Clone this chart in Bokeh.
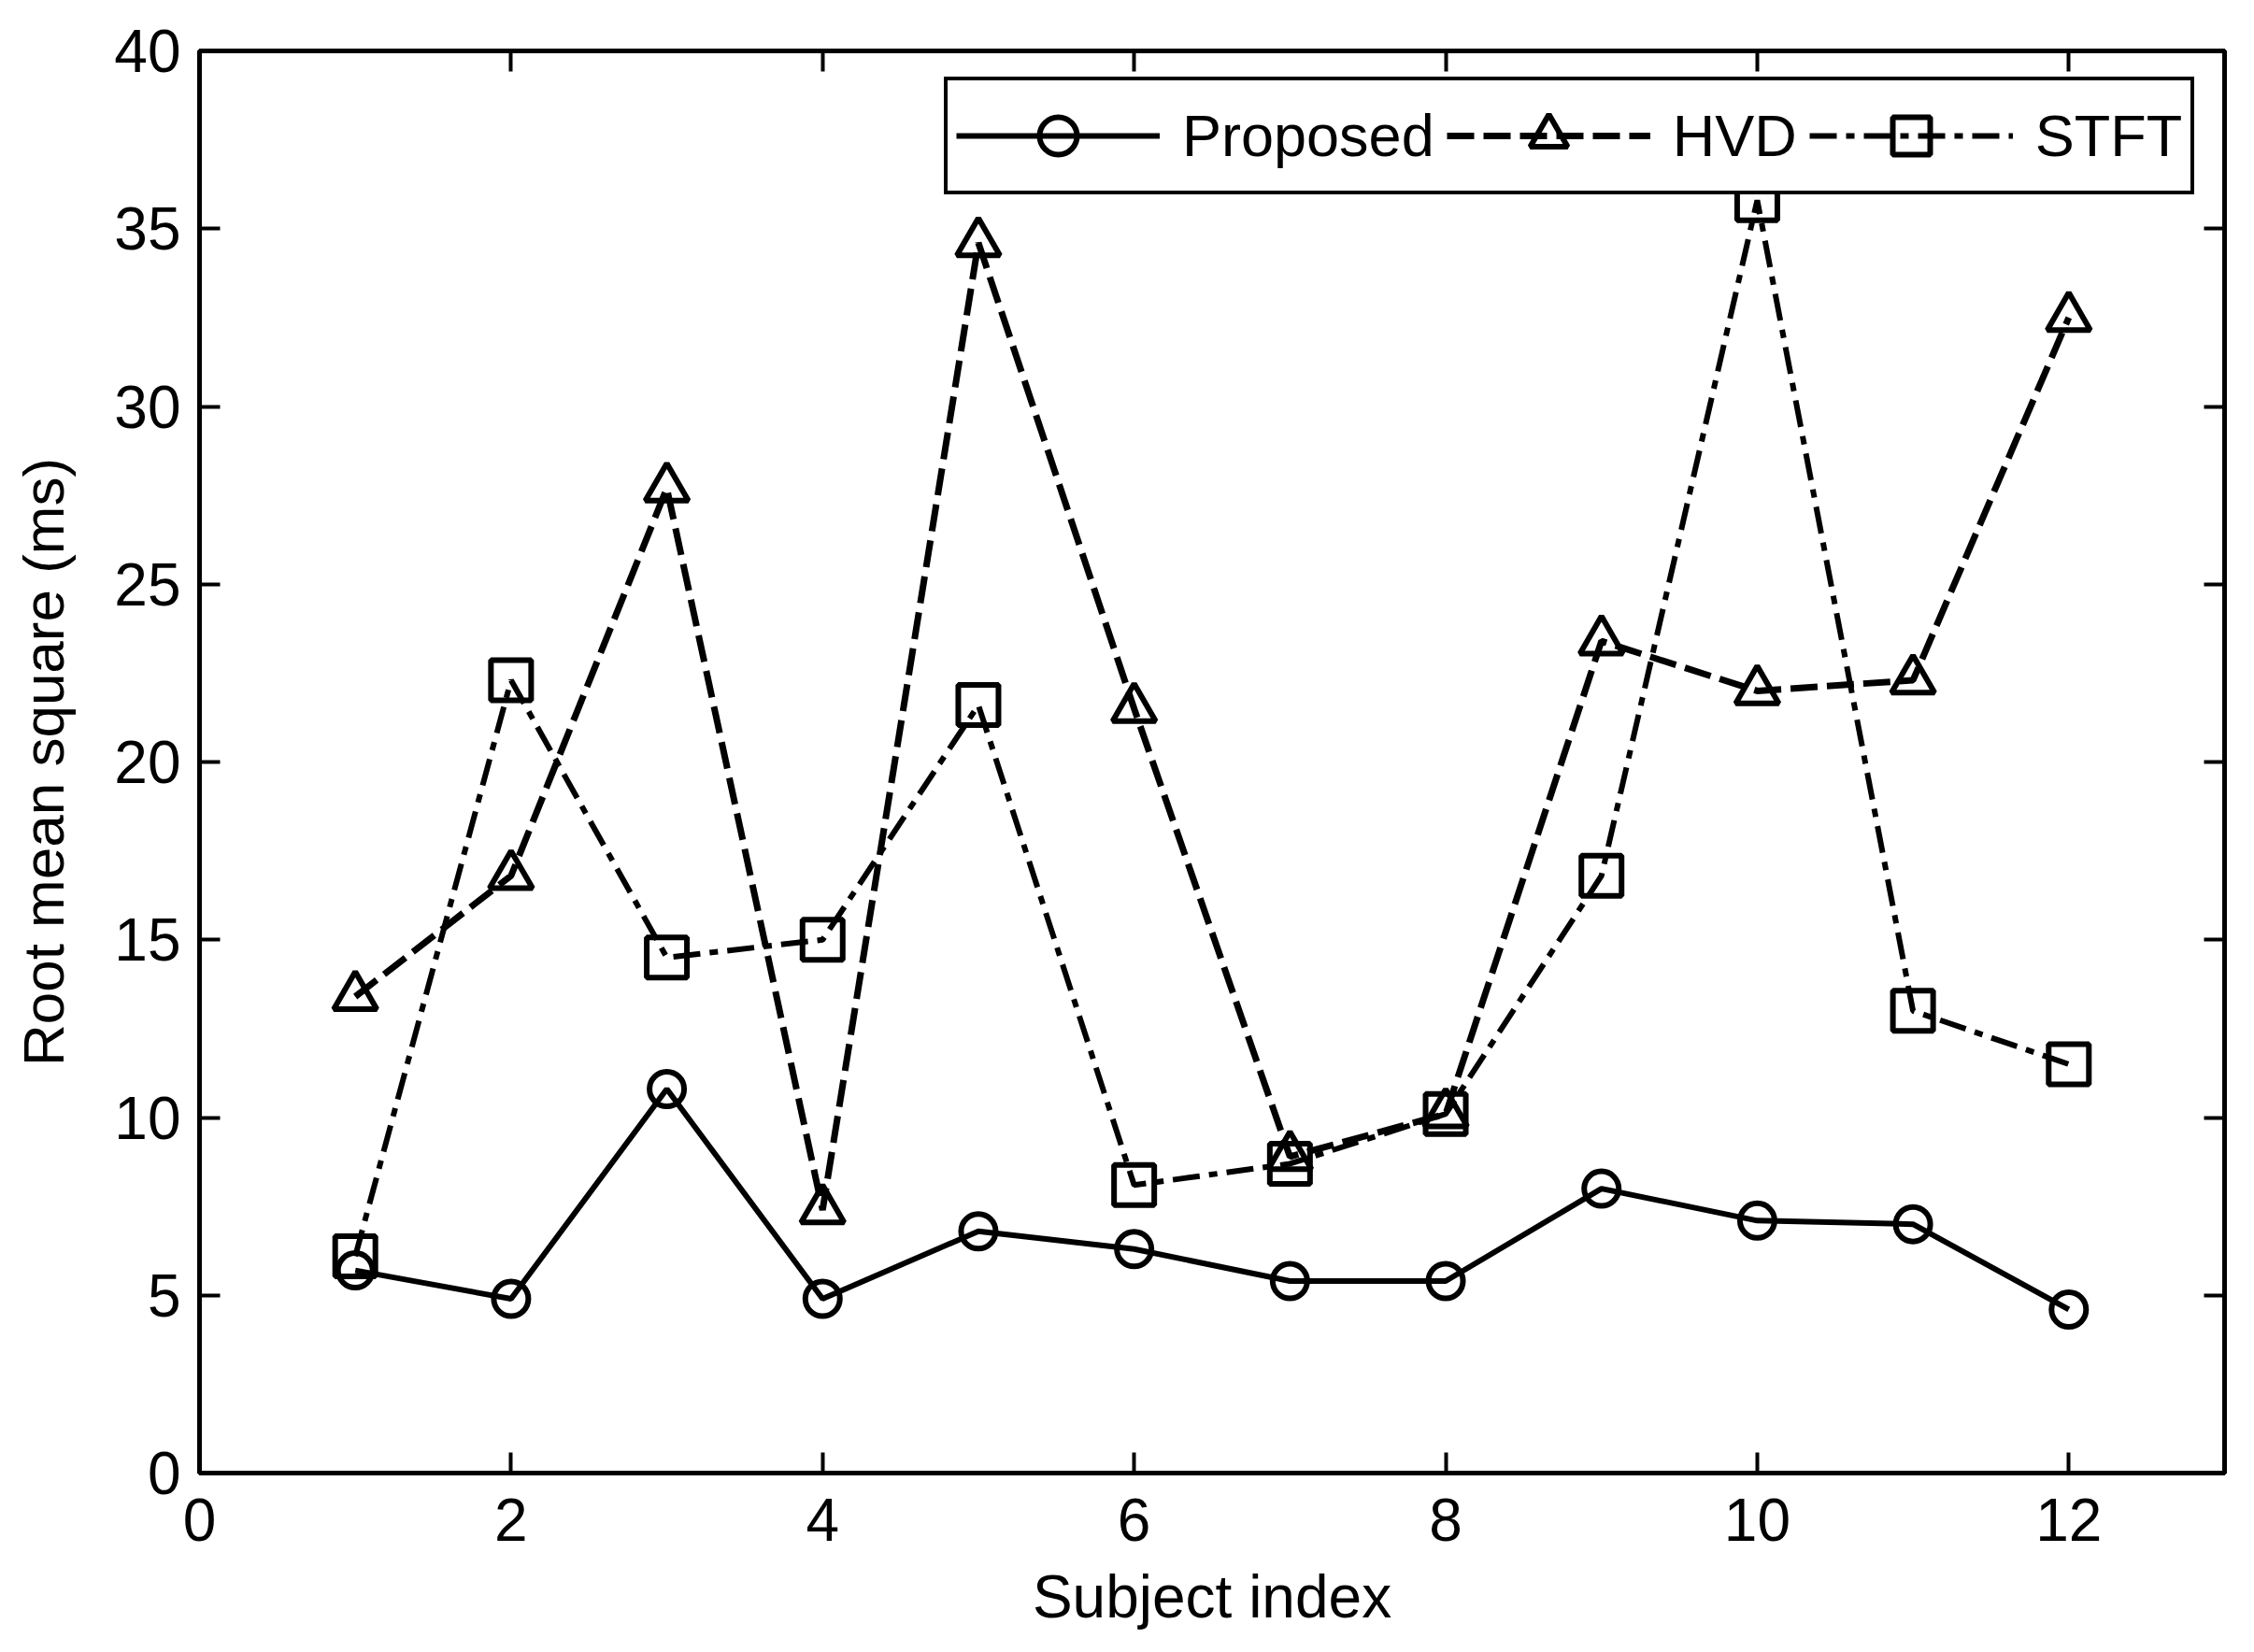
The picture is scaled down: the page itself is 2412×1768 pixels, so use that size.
from bokeh.plotting import figure
from bokeh.models import (Range1d, LinearAxis, FixedTicker, Legend, LegendItem,
                          CustomLabelingPolicy)
from bokeh.embed import file_html
from bokeh.resources import INLINE

# ---- data ----
subjects = [1, 2, 3, 4, 5, 6, 7, 8, 9, 10, 11, 12]
proposed = [5.7, 4.9, 10.8, 4.9, 6.8, 6.3, 5.4, 5.4, 8.0, 7.1, 7.0, 4.6]
hvd = [13.4, 16.8, 27.7, 7.4, 34.6, 21.5, 8.9, 10.1, 23.4, 22.0, 22.3, 32.5]
stft = [6.1, 22.3, 14.5, 15.0, 21.6, 8.1, 8.7, 10.1, 16.8, 35.8, 13.0, 11.5]
series_names = ["Proposed", "HVD", "STFT"]
x_ticks = [0, 2, 4, 6, 8, 10, 12]
y_ticks = [0, 5, 10, 15, 20, 25, 30, 35, 40]
x_label = "Subject index"
y_label = "Root mean square (ms)"

FONT = "Liberation Sans"
FS = "64px"

p = figure(width=2396, height=1752,
           x_range=Range1d(0, 13), y_range=Range1d(0, 40),
           output_backend="svg", toolbar_location=None,
           min_border_left=213, min_border_right=16,
           min_border_top=54, min_border_bottom=176,
           background_fill_color="white", border_fill_color="white")
p.xgrid.visible = False
p.ygrid.visible = False
p.outline_line_color = "black"
p.outline_line_width = 5

no_labels = CustomLabelingPolicy(code="""
for (const i of Array.from(indices)) { indices.unset(i) }
return indices
""")

def style_axis(ax, ticks, show_labels=True):
    ax.ticker = FixedTicker(ticks=ticks)
    ax.major_tick_in = 22
    ax.major_tick_out = 0
    ax.minor_tick_in = 0
    ax.minor_tick_out = 0
    ax.axis_line_width = 5
    ax.axis_line_color = "black"
    ax.major_tick_line_width = 4
    ax.major_tick_line_color = "black"
    if show_labels:
        ax.major_label_text_font = FONT
        ax.major_label_text_font_size = FS
        ax.major_label_text_color = "black"
    else:
        ax.major_label_policy = no_labels
        ax.major_label_standoff = 0

style_axis(p.xaxis[0], x_ticks)
style_axis(p.yaxis[0], y_ticks)
p.xaxis[0].major_label_standoff = 27
p.yaxis[0].major_label_standoff = 20
p.xaxis[0].axis_label = x_label
p.yaxis[0].axis_label = y_label
p.xaxis[0].axis_label_text_font = FONT
p.xaxis[0].axis_label_text_font_size = FS
p.xaxis[0].axis_label_text_font_style = "normal"
p.xaxis[0].axis_label_text_color = "black"
p.xaxis[0].axis_label_standoff = 21
p.yaxis[0].axis_label_text_font = FONT
p.yaxis[0].axis_label_text_font_size = "62px"
p.yaxis[0].axis_label_text_font_style = "normal"
p.yaxis[0].axis_label_text_color = "black"
p.yaxis[0].axis_label_standoff = 38

right_ax = LinearAxis()
style_axis(right_ax, y_ticks, show_labels=False)
p.add_layout(right_ax, "right")
top_ax = LinearAxis()
style_axis(top_ax, x_ticks, show_labels=False)
p.add_layout(top_ax, "above")

# ---- series ----
l1 = p.line(subjects, proposed, line_color="black", line_width=6)
m1 = p.scatter(subjects, proposed, marker="circle", size=37,
               fill_color=None, line_color="black", line_width=6)
l2 = p.line(subjects, hvd, line_color="black", line_width=7, line_dash="29 10")
m2 = p.scatter(subjects, hvd, marker="triangle", size=46,
               fill_color=None, line_color="black", line_width=6)
l3 = p.line(subjects, stft, line_color="black", line_width=6, line_dash="29 10 9 10")
m3 = p.scatter(subjects, stft, marker="square", size=43,
               fill_color=None, line_color="black", line_width=6)

legend = Legend(items=[
    LegendItem(label=series_names[0], renderers=[l1, m1]),
    LegendItem(label=series_names[1], renderers=[l2, m2]),
    LegendItem(label=series_names[2], renderers=[l3, m3]),
])
legend.orientation = "horizontal"
legend.location = (797, 1368)
legend.label_text_font = FONT
legend.label_text_font_size = "63px"
legend.label_text_color = "black"
legend.glyph_width = 218
legend.glyph_height = 100
legend.label_height = 100
legend.label_standoff = 24
legend.spacing = 13
legend.padding = 9
legend.margin = 0
legend.border_line_color = "black"
legend.border_line_alpha = 1.0
legend.border_line_width = 4
legend.background_fill_color = "white"
legend.background_fill_alpha = 1.0
p.add_layout(legend, "center")

open("out.html", "w").write(file_html(p, INLINE))
